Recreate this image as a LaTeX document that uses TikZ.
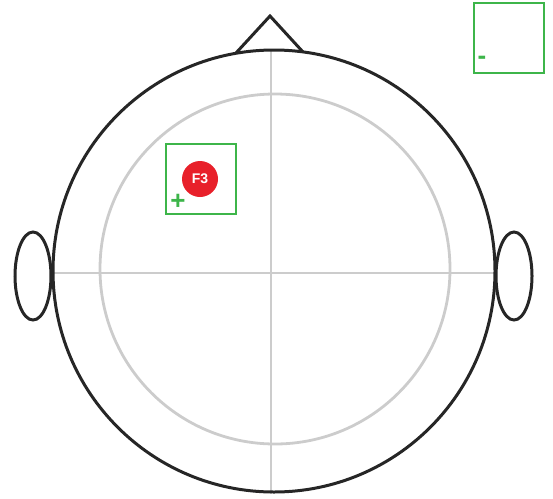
\documentclass[tikz,border=0pt]{standalone}
\usepackage{fontspec}
\setsansfont{Liberation Sans}
\usetikzlibrary{shapes.geometric}
\definecolor{headc}{HTML}{262626}
\definecolor{gridc}{HTML}{CCCCCC}
\definecolor{boxc}{HTML}{3DB54A}
\definecolor{elec}{HTML}{E8202A}
\begin{document}
\begin{tikzpicture}[x=1pt,y=-1pt,
  headline/.style={draw=headc,line width=3pt},
  gridline/.style={draw=gridc,line width=2.8pt},
  greenbox/.style={draw=boxc,line width=2pt},
  electrode/.style={circle,fill=elec,minimum size=36pt,inner sep=0pt,text=white,font=\sffamily\bfseries\fontsize{14}{14}\selectfont},
  sign/.style={text=boxc,font=\sffamily\bfseries\fontsize{26}{26}\selectfont,inner sep=0pt}]
\useasboundingbox (0,0) rectangle (553,498);
% grid
\draw[gridline] (275,269) circle (175);
\coordinate (hl) at (53,273);
\coordinate (hr) at (494,273);
\coordinate (vt) at (271,50);
\coordinate (vb) at (271,494);
\draw[gridline] (hl) -- (hr);
\draw[gridline] (vt) -- (vb);
% nose
\coordinate (nl) at (236,53);
\coordinate (na) at (270,16);
\coordinate (nr) at (303,52);
\draw[headline,line join=miter] (nl) -- (na) -- (nr);
% ears
\draw[headline] (33,276) ellipse (18 and 44);
\draw[headline] (514,276) ellipse (18 and 44);
% head
\draw[headline] (274,271) circle (221);
% electrode box
\draw[greenbox] (166,144) rectangle (236,214);
\node[electrode] (f3) at (200,179) {F3};
\node[sign] (plus) at (178,202) {+};
% reference box
\draw[greenbox] (474,3) rectangle (544,73);
\node[sign] (minus) at (482,60) {-};
\end{tikzpicture}
\end{document}
